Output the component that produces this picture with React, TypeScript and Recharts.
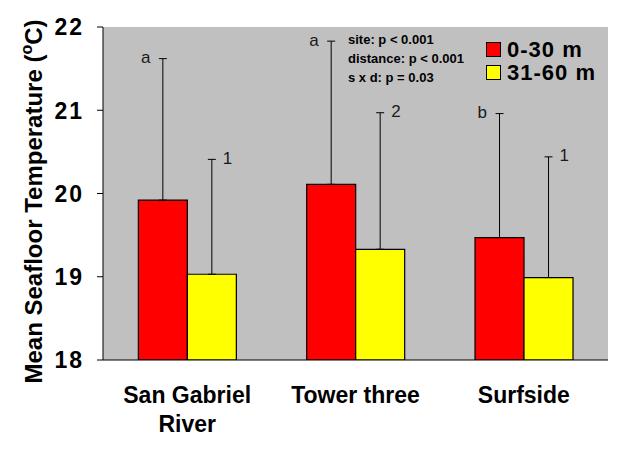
import React from "react";
import {
  BarChart,
  Bar,
  XAxis,
  YAxis,
  CartesianGrid,
  ErrorBar,
  ReferenceArea,
  Legend,
} from "recharts";

const categories = ["San Gabriel River", "Tower three", "Surfside"];
const shallowMean = [19.92, 20.11, 19.47];
const shallowUpper = [21.62, 21.83, 20.96];
const deepMean = [19.03, 19.33, 18.99];
const deepUpper = [20.41, 20.97, 20.44];
const shallowLetters = ["a", "a", "b"];
const deepLetters = ["1", "2", "1"];
const seriesNames = ["0-30 m", "31-60 m"];
const yTicks = [18, 19, 20, 21, 22];
const edgeTicks = [0, 1, 2, 3];
const statsLines = ["site: p < 0.001", "distance: p < 0.001", "s x d: p = 0.03"];

const FONT = "'Liberation Sans', Arial, sans-serif";
const Y_MIN = 18;
const Y_MAX = 22;

const data = categories.map((name, i) => ({
  name,
  shallow: shallowMean[i],
  deep: deepMean[i],
  shallowErr: [0, +(shallowUpper[i] - shallowMean[i]).toFixed(3)],
  deepErr: [0, +(deepUpper[i] - deepMean[i]).toFixed(3)],
}));

let measureCtx: CanvasRenderingContext2D | null = null;
const measure = (s: string, font: string) => {
  if (!measureCtx) measureCtx = document.createElement("canvas").getContext("2d");
  if (!measureCtx) return s.length * 12;
  measureCtx.font = font;
  return measureCtx.measureText(s).width;
};

const wrapWords = (s: string, maxW: number, font: string) => {
  const words = s.split(" ");
  const lines: string[] = [];
  let cur = "";
  words.forEach((w) => {
    const test = cur ? cur + " " + w : w;
    if (cur && measure(test, font) > maxW) {
      lines.push(cur);
      cur = w;
    } else {
      cur = test;
    }
  });
  if (cur) lines.push(cur);
  return lines;
};

const makeLetterLabel = (letters: string[], uppers: number[], side: "left" | "right") =>
  (props: any) => {
    const { x, y, width, height, value, index } = props;
    const ppu = height / (value - Y_MIN);
    const capY = y - (uppers[index] - value) * ppu;
    const cx = x + width / 2;
    return (
      <text
        key={`lbl-${side}-${index}`}
        x={side === "left" ? cx - 12.5 : cx + 11}
        y={capY + 4.5}
        textAnchor={side === "left" ? "end" : "start"}
        fontFamily={FONT}
        fontSize={17}
        fill="#1a1a1a"
      >
        {letters[index]}
      </text>
    );
  };

const XTick = (props: any) => {
  const { x, y, payload } = props;
  const font = `bold 23px ${FONT}`;
  const lines = wrapWords(String(payload.value), 160, font);
  return (
    <text
      x={x}
      y={y + 35}
      textAnchor="middle"
      fontFamily={FONT}
      fontSize={23}
      fontWeight="bold"
      fill="#000"
    >
      {lines.map((l, i) => (
        <tspan key={i} x={x} dy={i === 0 ? 0 : 29}>
          {l}
        </tspan>
      ))}
    </text>
  );
};

const YTick = (props: any) => {
  const { x, y, payload } = props;
  return (
    <text
      x={x}
      y={y}
      dy="0.36em"
      textAnchor="end"
      fontFamily={FONT}
      fontSize={23}
      fontWeight="bold"
      letterSpacing={2}
      fill="#000"
    >
      {payload.value}
    </text>
  );
};

const YLabel = (props: any) => {
  const { viewBox } = props;
  const cx = 42;
  const cy = viewBox.y + viewBox.height / 2 + 8;
  return (
    <text
      x={cx}
      y={cy}
      transform={`rotate(-90, ${cx}, ${cy})`}
      textAnchor="middle"
      fontFamily={FONT}
      fontSize={24}
      fontWeight="bold"
      fill="#000"
    >
      Mean Seafloor Temperature (
      <tspan dy={-10} fontSize={16}>o</tspan>
      <tspan dy={10}>C)</tspan>
    </text>
  );
};

const LegendContent = (props: any) => {
  const { payload } = props;
  return (
    <div style={{ position: "relative", width: 624, height: 0 }}>
      <div
        style={{
          position: "absolute",
          left: 348,
          top: 30,
          fontFamily: FONT,
          fontSize: 13,
          fontWeight: "bold",
          lineHeight: "19px",
          color: "#000",
          whiteSpace: "nowrap",
          textAlign: "left",
        }}
      >
        {statsLines.map((s) => (
          <div key={s}>{s}</div>
        ))}
      </div>
      <div style={{ position: "absolute", left: 486, top: 37.6 }}>
        {(payload || []).map((p: any) => (
          <div
            key={p.value}
            style={{
              display: "flex",
              alignItems: "center",
              height: 23,
              lineHeight: "23px",
              whiteSpace: "nowrap",
            }}
          >
            <span
              style={{
                display: "inline-block",
                width: 13,
                height: 13,
                background: p.color,
                border: "1px solid #000",
                marginRight: 6,
              }}
            />
            <span
              style={{
                fontFamily: FONT,
                fontSize: 22,
                fontWeight: "bold",
                letterSpacing: 1,
                color: "#000",
              }}
            >
              {p.value}
            </span>
          </div>
        ))}
      </div>
    </div>
  );
};

export default function App() {
  return (
    <div style={{ position: "fixed", left: 0, top: 0, width: 624, height: 450, background: "#fff" }}>
      <BarChart
        width={624}
        height={450}
        data={data}
        margin={{ top: 27, right: 16, bottom: 0, left: 0 }}
        barCategoryGap="21%"
        barGap={0}
      >
        <CartesianGrid xAxisId="cat" horizontal={false} vertical={false} fill="#C0C0C0" />
        <XAxis
          xAxisId="edges"
          type="number"
          domain={[0, 3]}
          ticks={edgeTicks}
          tick={false}
          axisLine={false}
          tickLine={{ stroke: "#000", strokeWidth: 1 }}
          tickSize={6}
          height={0}
          allowDataOverflow
        />
        <XAxis
          xAxisId="cat"
          dataKey="name"
          height={90}
          tickLine={false}
          axisLine={{ stroke: "#000", strokeWidth: 1 }}
          tick={<XTick />}
          interval={0}
        />
        <YAxis
          domain={[Y_MIN, Y_MAX]}
          ticks={yTicks}
          width={103}
          tickSize={6}
          tickMargin={13}
          axisLine={{ stroke: "#000", strokeWidth: 1 }}
          tickLine={{ stroke: "#000", strokeWidth: 1 }}
          tick={<YTick />}
          allowDataOverflow
          label={<YLabel />}
        />
        <ReferenceArea
          xAxisId="edges"
          x1={0}
          x2={3}
          y1={Y_MIN}
          y2={Y_MAX}
          fill="none"
          stroke="#000"
          strokeWidth={1}
        />
        <Legend
          verticalAlign="top"
          align="left"
          content={<LegendContent />}
          wrapperStyle={{ position: "absolute", left: 0, top: 0, width: 624, height: 0, margin: 0 }}
        />
        <Bar
          xAxisId="cat"
          dataKey="shallow"
          name={seriesNames[0]}
          fill="#FF0000"
          stroke="#000"
          strokeWidth={1.2}
          isAnimationActive={false}
          label={makeLetterLabel(shallowLetters, shallowUpper, "left")}
        >
          <ErrorBar dataKey="shallowErr" width={4} stroke="#000" strokeWidth={1} direction="y" />
        </Bar>
        <Bar
          xAxisId="cat"
          dataKey="deep"
          name={seriesNames[1]}
          fill="#FFFF00"
          stroke="#000"
          strokeWidth={1.2}
          isAnimationActive={false}
          label={makeLetterLabel(deepLetters, deepUpper, "right")}
        >
          <ErrorBar dataKey="deepErr" width={4} stroke="#000" strokeWidth={1} direction="y" />
        </Bar>
      </BarChart>
    </div>
  );
}
